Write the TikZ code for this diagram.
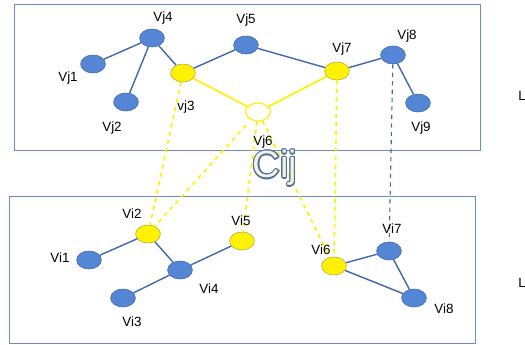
\documentclass[tikz,border=0pt]{standalone}
\usepackage{fontspec}
\setsansfont{Liberation Sans}
\usetikzlibrary{shapes.geometric}
\definecolor{vblue}{HTML}{5585D5}
\definecolor{vedge}{HTML}{4068AC}
\definecolor{frame}{HTML}{6A8CC8}
\definecolor{cfill}{HTML}{F3F1E2}
\definecolor{cline}{HTML}{4C6C9C}
\definecolor{yedge}{HTML}{B8A838}

\begin{document}
\begin{tikzpicture}[x=0.025cm,y=-0.025cm,
        vtx/.style={
          ellipse,draw=vedge,fill=vblue,inner sep=0pt,
          minimum width=0.62cm,minimum height=0.45cm
        },
        hit/.style={vtx,fill=yellow,draw=yedge},
        hub/.style={vtx,fill=white,draw=yellow,line width=0.8pt},
        txt/.style={font=\sffamily\fontsize{9.5}{11}\selectfont},
        ctxt/.style={font=\sffamily\fontsize{27}{30}\selectfont},
        link/.style={draw=vedge,line width=1pt},
        ylink/.style={draw=yellow,line width=1.2pt},
        ydash/.style={ylink,dashed}
      ]
      \useasboundingbox (0,0) rectangle (525,344);
      \clip (0,0) rectangle (525,344);
      \draw [frame,line width=0.6pt] (14,4) rectangle (480,150);
      \draw [frame,line width=0.6pt] (9,196) rectangle (475,343);

      \node [vtx] (j1) at (93,64) {};
      \node [vtx] (j2) at (126,102) {};
      \node [hit] (j3) at (183,73) {};
      \node [vtx] (j4) at (152,38) {};
      \node [vtx] (j5) at (246,45) {};
      \node [hub] (j6) at (258,112) {};
      \node [hit] (j7) at (337,71) {};
      \node [vtx] (j8) at (393,55) {};
      \node [vtx] (j9) at (418,103) {};

      \node [vtx] (i1) at (89,260) {};
      \node [hit] (i2) at (148,234) {};
      \node [vtx] (i3) at (123,298) {};
      \node [vtx] (i4) at (180,270) {};
      \node [hit] (i5) at (242,241) {};
      \node [hit] (i6) at (334,266) {};
      \node [vtx] (i7) at (389,251) {};
      \node [vtx] (i8) at (414,298) {};

      \draw [link] (j4) -- (j1);
      \draw [link] (j4) -- (j2);
      \draw [link] (j4) -- (j3);
      \draw [link] (j3) -- (j5);
      \draw [link] (j5) -- (j7);
      \draw [link] (j7) -- (j8);
      \draw [link] (j8) -- (j9);
      \draw [ylink] (j3) -- (j6);
      \draw [ylink] (j7) -- (j6);

      \draw [link] (i1) -- (i2);
      \draw [link] (i2) -- (i4);
      \draw [link] (i4) -- (i3);
      \draw [link] (i4) -- (i5);
      \draw [link] (i6) -- (i7);
      \draw [link] (i7) -- (i8);
      \draw [link] (i6) -- (i8);

      \draw [ydash] (j3) -- (i2);
      \draw [ydash,shorten <=5pt] (j6) -- (i2);
      \draw [ydash] (j6) -- (i5);
      \draw [ydash] (j6) -- (i6);
      \draw [ydash] (j7) -- (i6);
      \draw [link,line width=0.8pt,dashed] (j8) -- (i7);

      \node [txt] (tj1) at (68,78) {Vj1};
      \node [txt] (tj2) at (112,128) {Vj2};
      \node [txt] (tj3) at (186,107) {vj3};
      \node [txt] (tj4) at (163,18) {Vj4};
      \node [txt] (tj5) at (246,20) {Vj5};
      \node [txt] (tj6) at (263,142) {Vj6};
      \node [txt] (tj7) at (342,49) {Vj7};
      \node [txt] (tj8) at (407,36) {Vj8};
      \node [txt] (tj9) at (421,128) {Vj9};

      \node [txt] (ti1) at (60,258) {Vi1};
      \node [txt] (ti2) at (132,214) {Vi2};
      \node [txt] (ti3) at (132,322) {Vi3};
      \node [txt] (ti4) at (209,289) {Vi4};
      \node [txt] (ti5) at (241,221) {Vi5};
      \node [txt] (ti6) at (321,250) {Vi6};
      \node [txt] (ti7) at (392,229) {Vi7};
      \node [txt] (ti8) at (444,309) {Vi8};

      \foreach \a in {0,30,...,330}
        \node [ctxt,text=cline,shift={(\a:0.9pt)}] (cij\a) at (275,168) {Cij};
      \node [ctxt,text=cfill] (cij) at (275,168) {Cij};

      \node [txt,anchor=west,inner sep=0pt] (lj) at (518,97) {Lj};
      \node [txt,anchor=west,inner sep=0pt] (li) at (518,283) {Li};
    \end{tikzpicture}
\end{document}
